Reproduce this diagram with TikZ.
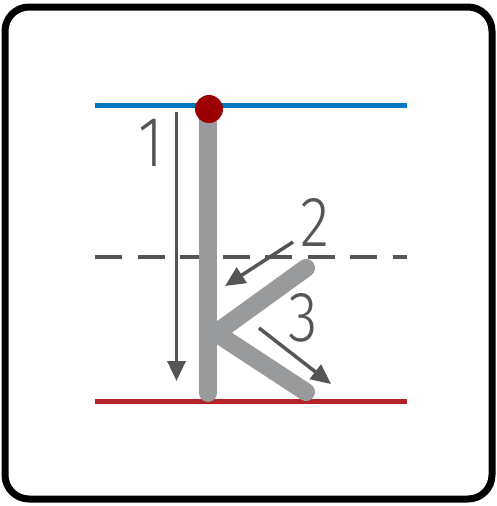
\documentclass[tikz,border=0pt]{standalone}
\usepackage{fontspec}
\setmainfont{Liberation Sans}
\newfontfamily\digitfont{Fira Sans Light}
\usetikzlibrary{arrows.meta}
\definecolor{guideblue}{HTML}{0077C0}
\definecolor{guidered}{HTML}{B22228}
\definecolor{dotred}{HTML}{9B0000}
\definecolor{strokegray}{HTML}{999A9C}
\definecolor{arrowgray}{HTML}{555555}
\tikzset{
  guide/.style={line width=4.5pt},
  letterstroke/.style={strokegray, line width=18pt, line cap=round},
  orderarrow/.style={arrowgray, line width=3.5pt, -{Triangle[length=20pt,width=18pt]}},
  numlabel/.style={text=arrowgray, font=\digitfont\fontsize{71}{71}\selectfont, inner sep=0pt, xscale=0.85}
}
\begin{document}
\begin{tikzpicture}[x=1pt,y=-1pt]
\useasboundingbox (0,0) rectangle (497,506);
\draw[line width=7pt, rounded corners=24pt, fill=white] (5,7) rectangle (492,499);
% guide lines
\coordinate (bl) at (95,105.5); \coordinate (br) at (407,105.5);
\coordinate (ml) at (95,257); \coordinate (mr) at (407,257);
\coordinate (rl) at (95,401.5); \coordinate (rr) at (407,401.5);
\draw[guide, guideblue] (bl) -- (br);
\draw[guide, arrowgray, dash pattern=on 27pt off 15.5pt] (ml) -- (mr);
\draw[guide, guidered] (rl) -- (rr);
% letter strokes
\coordinate (vtop) at (208,109);
\coordinate (vbot) at (208,393);
\coordinate (upend) at (306,268);
\coordinate (joint) at (216,333);
\coordinate (lowend) at (306,392);
\draw[letterstroke] (vtop) -- (vbot);
\draw[letterstroke, line join=round] (upend) -- (joint) -- (lowend);
\node[circle, fill=dotred, minimum size=28pt, inner sep=0pt] (dot) at (209,109) {};
% order arrows
\coordinate (a1s) at (176.5,112); \coordinate (a1e) at (176.5,381);
\coordinate (a2s) at (293,242); \coordinate (a2e) at (225,286);
\coordinate (a3s) at (259,328); \coordinate (a3e) at (331,384);
\draw[orderarrow] (a1s) -- (a1e);
\draw[orderarrow] (a2s) -- (a2e);
\draw[orderarrow] (a3s) -- (a3e);
\node[numlabel] (n1) at (151,142.5) {1};
\node[numlabel] (n2) at (315,222) {2};
\node[numlabel] (n3) at (303,318) {3};
\end{tikzpicture}
\end{document}
